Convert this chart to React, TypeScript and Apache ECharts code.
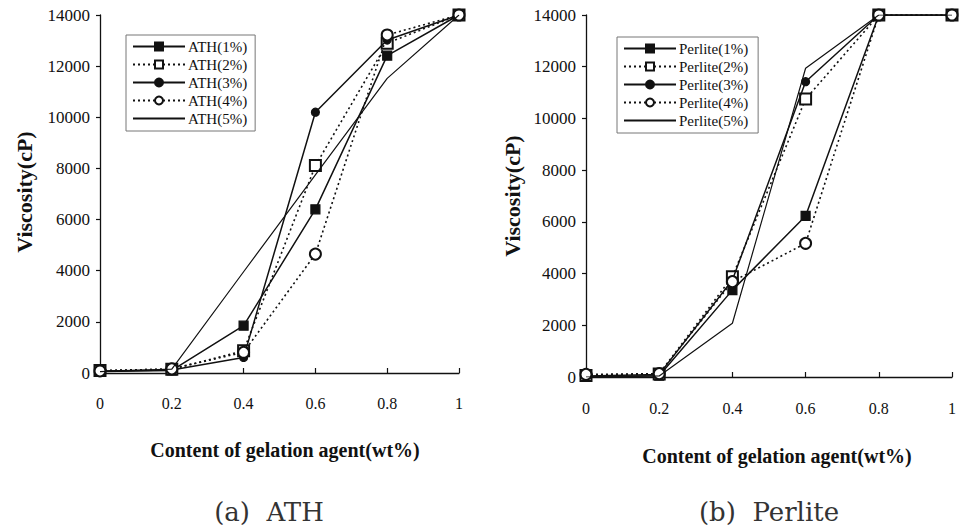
import React, { useEffect, useRef } from "react";
import * as echarts from "echarts";

const xValues = [0, 0.2, 0.4, 0.6, 0.8, 1];

const athNames = ["ATH(1%)", "ATH(2%)", "ATH(3%)", "ATH(4%)", "ATH(5%)"];
const ath1 = [60, 100, 1850, 6400, 12410, 14000];
const ath2 = [100, 150, 870, 8110, 12900, 14000];
const ath3 = [80, 120, 610, 10200, 13020, 14000];
const ath4 = [80, 160, 810, 4650, 13220, 14000];
const ath5 = [50, 150, 3960, 7750, 11520, 14000];

const perliteNames = ["Perlite(1%)", "Perlite(2%)", "Perlite(3%)", "Perlite(4%)", "Perlite(5%)"];
const per1 = [0, 50, 3360, 6230, 14000, 14000];
const per2 = [60, 120, 3880, 10750, 14000, 14000];
const per3 = [40, 100, 3750, 11420, 14000, 14000];
const per4 = [100, 130, 3690, 5170, 14000, 14000];
const per5 = [0, 40, 2080, 11940, 14000, 14000];

const xTitle = "Content of gelation agent(wt%)";
const yTitle = "Viscosity(cP)";
const captions = ["(a)  ATH", "(b)  Perlite"];

const serif = "Liberation Serif";

const styles = [
  { symbol: "rect", symbolSize: 9, type: "solid", width: 1.5 },
  { symbol: "emptyRect", symbolSize: 11, type: [2, 3], width: 1.6 },
  { symbol: "circle", symbolSize: 8, type: "solid", width: 1.5 },
  { symbol: "emptyCircle", symbolSize: 11, type: [2, 3], width: 1.6 },
  { symbol: "none", symbolSize: 0, type: "solid", width: 1.2 },
];

function makeSeries(names: string[], data: number[][], idx: number) {
  return names.map((name, i) => ({
    name,
    type: "line",
    xAxisIndex: idx,
    yAxisIndex: idx,
    data: xValues.map((x, j) => [x, data[i][j]]),
    symbol: styles[i].symbol,
    symbolSize: styles[i].symbolSize,
    showSymbol: styles[i].symbol !== "none",
    color: "#111",
    itemStyle: { color: "#111", borderColor: "#111", borderWidth: 1.2 },
    lineStyle: { color: "#111", width: styles[i].width, type: styles[i].type },
    z: 2 + i,
  }));
}

function xAxis(idx: number) {
  return {
    type: "value",
    gridIndex: idx,
    min: 0,
    max: 1,
    interval: 0.2,
    axisLine: { show: true, onZero: false, lineStyle: { color: "#111", width: 1.3 } },
    axisTick: { show: true, inside: true, length: 5, lineStyle: { color: "#111", width: 1.2 } },
    splitLine: { show: false },
    axisLabel: {
      margin: idx === 0 ? 22 : 23,
      fontFamily: serif,
      fontSize: 16,
      color: "#111",
      formatter: (v: number) => (v === 0 ? "0" : v === 1 ? "1" : v.toFixed(1)),
    },
  };
}

function yAxis(idx: number) {
  return {
    type: "value",
    gridIndex: idx,
    min: 0,
    max: 14000,
    interval: 2000,
    axisLine: { show: true, lineStyle: { color: "#111", width: 1.3 } },
    axisTick: { show: true, inside: false, length: 4, lineStyle: { color: "#111", width: 1.2 } },
    splitLine: { show: false },
    axisLabel: {
      margin: 10,
      fontFamily: serif,
      fontSize: 17,
      color: "#111",
      formatter: (v: number) => String(v),
    },
  };
}

function legend(names: string[], left: number, top: number, rightPad: number) {
  return {
    data: names.map((n, i) => (styles[i].symbol === "none" ? { name: n, itemStyle: { opacity: 0 } } : { name: n })),
    orient: "vertical",
    left,
    top,
    itemWidth: 52,
    itemHeight: 10,
    itemGap: 3,
    padding: [4, rightPad, 5, 6],
    borderColor: "#777",
    borderWidth: 1,
    backgroundColor: "#fff",
    textStyle: { fontFamily: serif, fontSize: 15, color: "#111", padding: [0, 0, 0, -2] },
  };
}

export default function App() {
  const ref = useRef<HTMLDivElement>(null);
  useEffect(() => {
    if (!ref.current) return;
    const chart = echarts.init(ref.current, undefined, { renderer: "svg" });
    chart.setOption({
      animation: false,
      backgroundColor: "#fff",
      grid: [
        { left: 100, top: 15, width: 359, height: 358 },
        { left: 586, top: 15, width: 366, height: 362 },
      ],
      xAxis: [xAxis(0), xAxis(1)],
      yAxis: [yAxis(0), yAxis(1)],
      legend: [legend(athNames, 126, 35, 8), legend(perliteNames, 617, 37, 10)],
      series: [
        ...makeSeries(athNames, [ath1, ath2, ath3, ath4, ath5], 0),
        ...makeSeries(perliteNames, [per1, per2, per3, per4, per5], 1),
      ],
      graphic: [
        {
          type: "text",
          x: 285,
          y: 450,
          style: { text: xTitle, font: `bold 20px "${serif}"`, fill: "#111", textAlign: "center", textVerticalAlign: "middle" },
        },
        {
          type: "text",
          x: 777,
          y: 456,
          style: { text: xTitle, font: `bold 20px "${serif}"`, fill: "#111", textAlign: "center", textVerticalAlign: "middle" },
        },
        {
          type: "text",
          x: 24,
          y: 192,
          rotation: Math.PI / 2,
          style: { text: yTitle, font: `bold 22px "${serif}"`, fill: "#111", textAlign: "center", textVerticalAlign: "middle" },
        },
        {
          type: "text",
          x: 512,
          y: 196,
          rotation: Math.PI / 2,
          style: { text: yTitle, font: `bold 22px "${serif}"`, fill: "#111", textAlign: "center", textVerticalAlign: "middle" },
        },
        {
          type: "text",
          x: 269,
          y: 512,
          style: { text: captions[0], font: `26px "DejaVu Serif"`, fill: "#333", textAlign: "center", textVerticalAlign: "middle" },
        },
        {
          type: "text",
          x: 769,
          y: 512,
          style: { text: captions[1], font: `26px "DejaVu Serif"`, fill: "#333", textAlign: "center", textVerticalAlign: "middle" },
        },
      ],
    });
    return () => chart.dispose();
  }, []);
  return <div ref={ref} style={{ width: 961, height: 530, position: "absolute", left: 0, top: 0 }} />;
}
